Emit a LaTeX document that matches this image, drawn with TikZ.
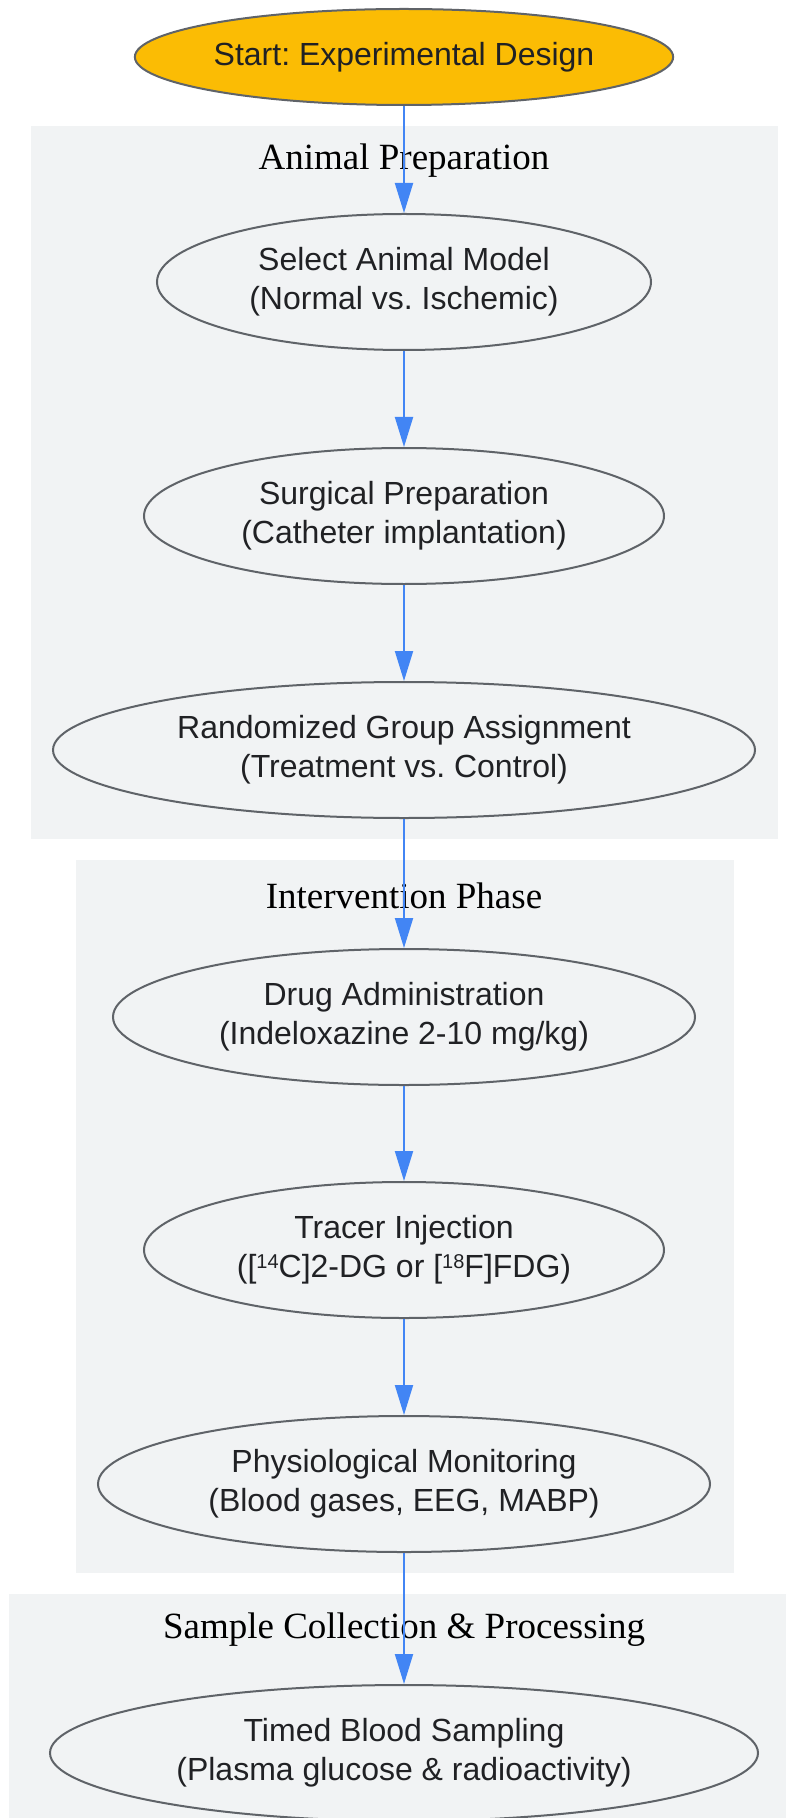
\documentclass[tikz,border=0pt]{standalone}
\usepackage{fontspec}
\setmainfont{Liberation Serif}
\newfontfamily\nodefont{Liberation Sans}
\usetikzlibrary{arrows.meta, shapes.geometric}
\definecolor{grpfill}{HTML}{F1F3F4}
\definecolor{edgeline}{HTML}{5F6368}
\definecolor{flowblue}{HTML}{4285F4}
\definecolor{startfill}{HTML}{FBBC04}
\definecolor{inktext}{HTML}{202124}
\frenchspacing

\begin{document}
\begin{tikzpicture}[
        x = 0.5pt, y = -0.5pt,
    stage/.style = {ellipse, draw=edgeline, line width=1pt, fill=grpfill,
                    inner sep=0pt, align=center, text=inktext,
                    minimum height=68pt,
                    font=\nodefont\fontsize{16}{19.5}\selectfont},
startnode/.style = {stage, fill=startfill, minimum height=48pt},
      grp/.style = {fill=grpfill},
 grplabel/.style = {font=\fontsize{18.5}{22}\selectfont},
     flow/.style = {draw=flowblue, line width=1pt,
                    -{Triangle[length=15pt, width=9pt, fill=flowblue]}}
                    ]
  \useasboundingbox (0,0) rectangle (786,1818);
  % clusters
  \path[grp] (31,126) rectangle (778,839);
  \path[grp] (76,860) rectangle (734,1573);
  \path[grp] (9,1594) rectangle (786,1818);
  \node (prep)  [grplabel] at (404,161)  {Animal Preparation};
  \node (inter) [grplabel] at (404,896)  {Intervention Phase};
  \node (samp)  [grplabel] at (404,1630) {Sample Collection \& Processing};
  % steps
  \node (start)  [startnode, minimum width=269pt] at (404,57)
        {Start: Experimental Design};
  \node (model)  [stage, minimum width=247pt] at (404,282)
        {Select Animal Model\\(Normal vs. Ischemic)};
  \node (surg)   [stage, minimum width=260pt] at (404,516)
        {Surgical Preparation\\(Catheter implantation)};
  \node (group)  [stage, minimum width=351pt] at (404,750)
        {Randomized Group Assignment\\(Treatment vs. Control)};
  \node (drug)   [stage, minimum width=291pt] at (404,1017)
        {Drug Administration\\(Indeloxazine 2-10 mg/kg)};
  \node (tracer) [stage, minimum width=260pt] at (404,1250)
        {Tracer Injection\\([{\fontsize{10}{10}\selectfont\raisebox{0.45em}{14}}C]2-DG or
         [{\fontsize{10}{10}\selectfont\raisebox{0.45em}{18}}F]FDG)};
  \node (monit)  [stage, minimum width=306pt] at (404,1484)
        {Physiological Monitoring\\(Blood gases, EEG, MABP)};
  \node (blood)  [stage, minimum width=354pt] at (404,1753)
        {Timed Blood Sampling\\(Plasma glucose \& radioactivity)};
  % connectors
  \draw [flow] (start) -- (model);
  \draw [flow] (model) -- (surg);
  \draw [flow] (surg) -- (group);
  \draw [flow] (group) -- (drug);
  \draw [flow] (drug) -- (tracer);
  \draw [flow] (tracer) -- (monit);
  \draw [flow] (monit) -- (blood);
\end{tikzpicture}
\end{document}
